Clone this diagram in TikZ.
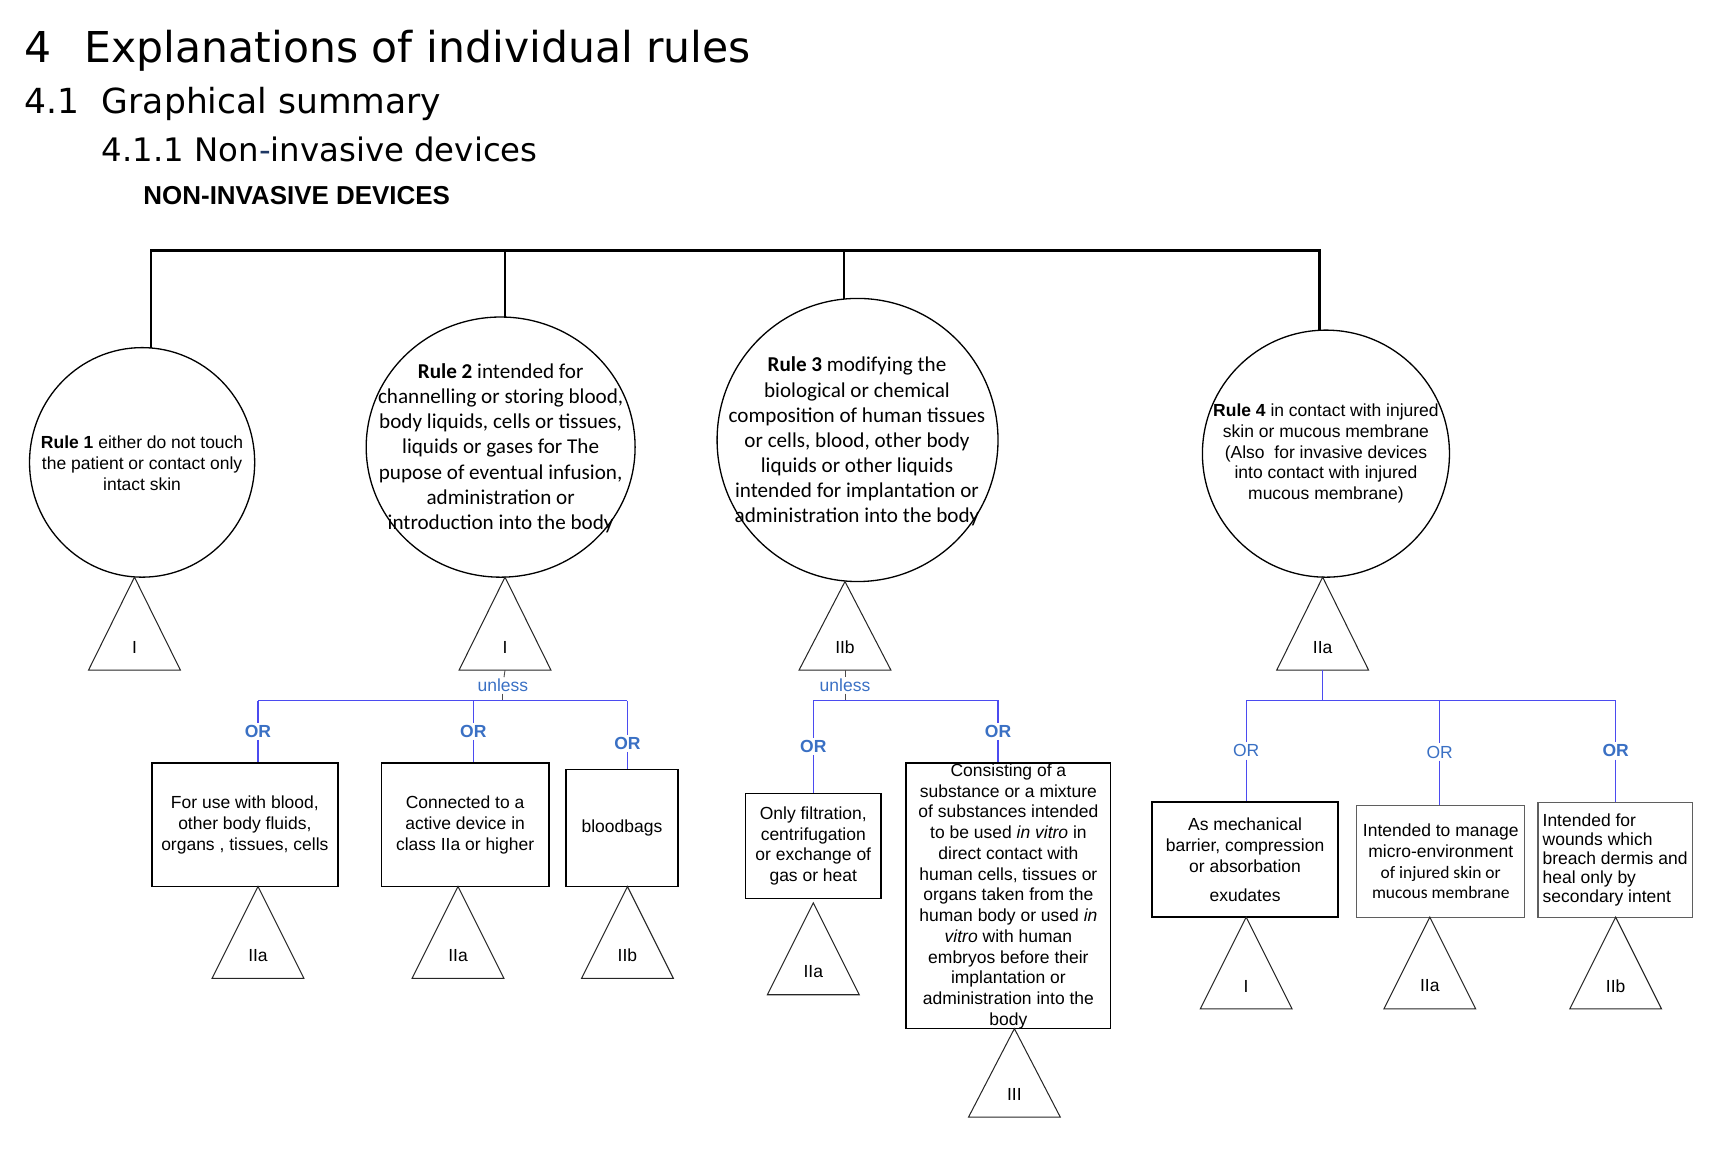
\documentclass[tikz,border=0pt]{standalone}
\usepackage{fontspec}
\setmainfont{Liberation Sans}
\newfontfamily\dejavu{DejaVu Sans}
\newfontfamily\carlito{Carlito}
\usetikzlibrary{shapes.geometric}
\definecolor{orblue}{RGB}{58,112,196}
\definecolor{lineblue}{RGB}{75,75,240}
\definecolor{hyphblue}{RGB}{31,56,100}
\definecolor{boxgray}{RGB}{95,95,95}
\newcommand\pxu{0.75pt}
\newcommand\boxfont{\fontsize{12pt}{14.25pt}\selectfont}
\newcommand\calfont{\carlito\fontsize{14.5pt}{17.25pt}\selectfont}
\newcommand\mytri[5]{%
  \coordinate (#1apex) at (#2,#3);
  \coordinate (#1base) at (#2,{#3+#4});
  \draw[triline] (#1apex) -- ++(-42,#4) -- ++(84,0) -- cycle;
  \node[trilabel] (#1) at (#2,{#3+#4-21}) {#5};
}
\tikzset{
  circ/.style={draw, ellipse, line width=0.9pt, inner sep=0pt},
  ctext/.style={align=center, inner sep=0pt, font=\boxfont},
  calctext/.style={align=center, inner sep=0pt, font=\calfont},
  box/.style={draw, rectangle, line width=1.1pt, inner sep=0pt, align=center, font=\boxfont},
  graybox/.style={box, draw=boxgray, line width=0.8pt},
  triline/.style={draw=black!85, line width=0.7pt, line join=miter},
  trilabel/.style={inner sep=0pt, font=\boxfont},
  busline/.style={line width=1.8pt, line cap=rect},
  blueln/.style={draw=lineblue, line width=0.8pt},
  tickline/.style={draw=black!70, line width=0.6pt},
  unlesslbl/.style={inner sep=1pt, text=orblue, font=\boxfont},
  orbold/.style={inner sep=1.5pt, fill=white, text=orblue, font=\boxfont\bfseries},
  orplain/.style={inner sep=1.5pt, fill=white, text=orblue, font=\boxfont},
}
\begin{document}
\begin{tikzpicture}[x=0.75pt, y=-0.75pt]
\useasboundingbox (0,0) rectangle (1568,1057);

% headings
\node[anchor=base west, inner sep=0pt, font=\dejavu\fontsize{29.2pt}{35pt}\selectfont] (h1a) at (22,57) {4};
\node[anchor=base west, inner sep=0pt, font=\dejavu\fontsize{29.2pt}{35pt}\selectfont] (h1b) at (77,57) {Explanations of individual rules};
\node[anchor=base west, inner sep=0pt, font=\dejavu\fontsize{23.7pt}{28pt}\selectfont] (h2a) at (22,104) {4.1};
\node[anchor=base west, inner sep=0pt, font=\dejavu\fontsize{23.7pt}{28pt}\selectfont] (h2b) at (93,104) {Graphical summary};
\node[anchor=base west, inner sep=0pt, font=\dejavu\fontsize{22.2pt}{26pt}\selectfont] (h3) at (93,148) {4.1.1 Non{\color{hyphblue}-}invasive devices};
\node[anchor=base west, inner sep=0pt, font=\fontsize{17.8pt}{21pt}\selectfont\bfseries] (h4) at (131,187) {NON-INVASIVE DEVICES};

% rule circles
\node[circ, minimum width={206*\pxu}, minimum height={210*\pxu}] (c1) at (130,423) {};
\node[circ, minimum width={246*\pxu}, minimum height={238*\pxu}] (c2) at (458,409) {};
\node[circ, minimum width={257*\pxu}, minimum height={259*\pxu}] (c3) at (784.5,402.5) {};
\node[circ, minimum width={226*\pxu}, minimum height={226*\pxu}] (c4) at (1213,415) {};

\node[ctext] (c1t) at (130,424) {\textbf{Rule 1} either do not touch\\the patient or contact only\\intact skin};
\node[calctext] (c2t) at (458,410) {\textbf{Rule 2} intended for\\channelling or storing blood,\\body liquids, cells or tissues,\\liquids or gases for The\\pupose of eventual infusion,\\administration or\\introduction into the body};
\node[calctext] (c3t) at (784,404) {\textbf{Rule 3} modifying the\\biological or chemical\\composition of human tissues\\or cells, blood, other body\\liquids or other liquids\\intended for implantation or\\administration into the body};
\node[ctext] (c4t) at (1213,415) {\textbf{Rule 4} in contact with injured\\skin or mucous membrane\\(Also\ \ for invasive devices\\into contact with injured\\mucous membrane)};

% top bus
\coordinate (bus1) at (138,229);
\coordinate (bus2) at (462,229);
\coordinate (bus3) at (772,229);
\coordinate (bus4) at (1207,229);
\draw[busline] (bus1 |- c1.north) -- (bus1) -- (bus4) -- (bus4 |- c4.north);
\draw[busline] (bus2) -- (bus2 |- c2.north);
\draw[busline] (bus3) -- (bus3 |- c3.north);

% class triangles under the rules
\mytri{t1}{123}{528}{85}{I}
\mytri{t2}{462}{528}{85}{I}
\mytri{t3}{773}{532}{81}{IIb}
\mytri{t4}{1210}{528}{85}{IIa}

% boxes
\node[box, minimum width={170*\pxu}, minimum height={113*\pxu}] (bx1) at (224,754.5) {For use with blood,\\other body fluids,\\organs , tissues, cells};
\node[box, minimum width={153*\pxu}, minimum height={113*\pxu}] (bx2) at (425.5,754.5) {Connected to a\\active device in\\class IIa or higher};
\node[box, minimum width={102*\pxu}, minimum height={107*\pxu}] (bx3) at (569,757.5) {bloodbags};
\node[box, minimum width={124*\pxu}, minimum height={96*\pxu}] (bx4) at (744,774) {Only filtration,\\centrifugation\\or exchange of\\gas or heat};
\node[box, minimum width={187*\pxu}, minimum height={243*\pxu}] (bx5) at (922.5,819.5) {};
\node[ctext] (bx5t) at (922.5,820) {Consisting of a\\substance or a mixture\\of substances intended\\to be used \textit{in vitro} in\\direct contact with\\human cells, tissues or\\organs taken from the\\human body or used \textit{in}\\\textit{vitro} with human\\embryos before their\\implantation or\\administration into the\\body};
\node[box, line width=1.2pt, minimum width={170*\pxu}, minimum height={105*\pxu}] (bx6) at (1139,786.5) {As mechanical\\barrier, compression\\or absorbation\\[6pt]exudates};
\node[graybox, minimum width={154*\pxu}, minimum height={102*\pxu}] (bx7) at (1318,788) {Intended to manage\\micro-environment\\{\carlito of injured skin or}\\{\carlito mucous membrane}};
\node[graybox, align=left, minimum width={141*\pxu}, minimum height={105*\pxu}, font=\fontsize{12pt}{13.1pt}\selectfont] (bx8) at (1477.5,786.5) {Intended for\\wounds which\\breach dermis and\\heal only by\\secondary intent};

% class triangles under the boxes
\mytri{t5}{236}{811}{84}{IIa}
\mytri{t6}{419}{811}{84}{IIa}
\mytri{t7}{574}{811}{84}{IIb}
\mytri{t8}{744}{826}{84}{IIa}
\mytri{t9}{928}{941}{81}{III}
\mytri{t10}{1140}{839}{84}{I}
\mytri{t11}{1308}{839}{84}{IIa}
\mytri{t12}{1478}{839}{84}{IIb}

% rule 2 branch
\node[unlesslbl] (u2) at (460,627) {unless};
\coordinate (j2) at (460,641);
\coordinate (j2a) at (236,641);
\coordinate (j2c) at (574,641);
\draw[tickline] (t2base) -- (u2);
\draw[tickline] (u2) -- (j2);
\draw[blueln] (j2a) -- (j2c);
\node[orbold] (o21) at (236,669) {OR};
\node[orbold] (o22) at (433,669) {OR};
\node[orbold] (o23) at (574,680) {OR};
\draw[blueln] (j2a) -- (o21);
\draw[blueln] (o21) -- (o21 |- bx1.north);
\draw[blueln] (o22 |- j2a) -- (o22);
\draw[blueln] (o22) -- (o22 |- bx2.north);
\draw[blueln] (j2c) -- (o23);
\draw[blueln] (o23) -- (o23 |- bx3.north);

% rule 3 branch
\node[unlesslbl] (u3) at (773,627) {unless};
\coordinate (j3) at (773,641);
\draw[tickline] (t3base) -- (u3);
\draw[tickline] (u3) -- (j3);
\node[orbold] (o31) at (744,683) {OR};
\node[orbold] (o32) at (913,669) {OR};
\draw[blueln] (o31) -- (o31 |- j3) -- (o32 |- j3) -- (o32);
\draw[blueln] (o31) -- (o31 |- bx4.north);
\draw[blueln] (o32) -- (o32 |- bx5.north);

% rule 4 branch
\coordinate (j4) at (1210,641);
\draw[blueln] (t4base) -- (j4);
\node[orplain] (o41) at (1140,687) {OR};
\node[orplain] (o42) at (1317,688) {OR};
\node[orbold] (o43) at (1478,687) {OR};
\draw[blueln] (o41) -- (o41 |- j4) -- (o43 |- j4) -- (o43);
\draw[blueln] (o42 |- j4) -- (o42);
\draw[blueln] (o41) -- (o41 |- bx6.north);
\draw[blueln] (o42) -- (o42 |- bx7.north);
\draw[blueln] (o43) -- (o43 |- bx8.north);
\end{tikzpicture}
\end{document}
